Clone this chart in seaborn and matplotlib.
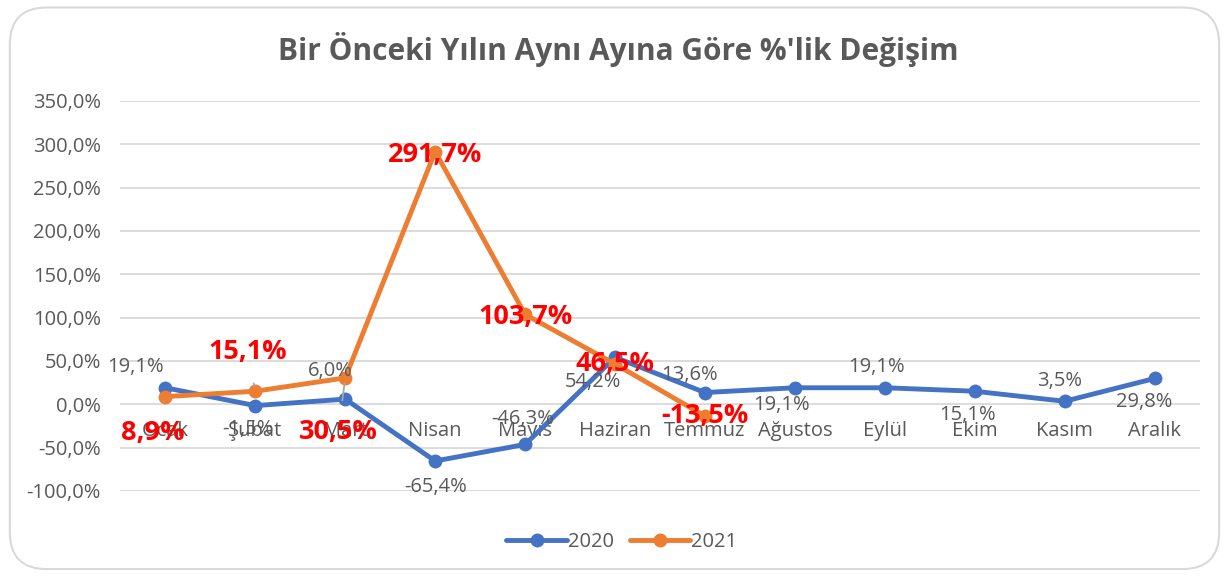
import pandas as pd
import matplotlib.pyplot as plt
import seaborn as sns
from matplotlib.patches import FancyBboxPatch

sns.set_theme(style="white")
plt.rcParams['font.family'] = ['Open Sans', 'DejaVu Sans']

# data
months = ['Ocak', 'Şubat', 'Mart', 'Nisan', 'Mayıs', 'Haziran', 'Temmuz',
          'Ağustos', 'Eylül', 'Ekim', 'Kasım', 'Aralık']
vals_2020 = [19.1, -1.5, 6.0, -65.4, -46.3, 54.2, 13.6, 19.1, 19.1, 15.1, 3.5, 29.8]
vals_2021 = [8.9, 15.1, 30.5, 291.7, 103.7, 46.5, -13.5]
y_ticks = [-100, -50, 0, 50, 100, 150, 200, 250, 300, 350]

# label offsets in pixels (dx, dy)
off_2020 = [(-30, 21), (-7, -23), (-15, 28), (0, -26), (-2, 25), (-22, -25),
            (-15, 18), (-13, -17), (-8, 21), (-7, -24), (-5, 20), (-10, -24)]
off_2021 = [(-13, -36), (-8, 39), (-7, -54), (0, -3), (0, -3), (0, 0), (0, 0)]
leader_2021 = [True, True, True, False, False, False, False]

df = pd.concat([
    pd.DataFrame({'ay': months, 'deger': vals_2020, 'yil': '2020'}),
    pd.DataFrame({'ay': months[:len(vals_2021)], 'deger': vals_2021, 'yil': '2021'}),
])
df['x'] = df['ay'].map({m: i for i, m in enumerate(months)})

gray = '#595959'
colors = {'2020': '#4472C4', '2021': '#ED7D31'}

fig = plt.figure(figsize=(12.29, 5.76), dpi=100)
ax = fig.add_axes([0.098, 0.1476, 0.878, 0.6771])

border = FancyBboxPatch((0.008, 0.012), 0.984, 0.975, boxstyle="round,pad=0,rounding_size=0.03",
                        transform=fig.transFigure, facecolor='white', edgecolor='#D9D9D9',
                        linewidth=1.5, zorder=-10, mutation_aspect=1229 / 576)
fig.patches.append(border)

sns.lineplot(data=df, x='x', y='deger', hue='yil', palette=colors, marker='o',
             markersize=10, markeredgewidth=0, linewidth=3.5, sort=False, ax=ax)

ax.set_xlim(-0.5, 11.5)
ax.set_ylim(-100, 350)
ax.spines['bottom'].set_position(('data', 0))
for s in ax.spines.values():
    s.set_visible(False)
ax.set_yticks(y_ticks)
ax.set_yticklabels([f'{v:.1f}%'.replace('.', ',') for v in y_ticks])
ax.set_xticks(range(len(months)))
ax.set_xticklabels(months)
ax.tick_params(axis='x', length=0, pad=12, labelsize=14.5, labelcolor=gray)
ax.tick_params(axis='y', length=0, pad=14, labelsize=14.5, labelcolor=gray)
ax.grid(axis='y', color='#D9D9D9', linewidth=1.3)
ax.set_axisbelow(True)
ax.set_xlabel('')
ax.set_ylabel('')

# data labels 2020
for i, (v, o) in enumerate(zip(vals_2020, off_2020)):
    ax.annotate(f'{v:.1f}%'.replace('.', ','), xy=(i, v), xytext=o, textcoords='offset pixels',
                ha='center', va='center', fontsize=14.5, color=gray, zorder=5)

# data labels 2021
for i, (v, o, lead) in enumerate(zip(vals_2021, off_2021, leader_2021)):
    arrow = dict(arrowstyle='-', color='#A6A6A6', lw=1.3, shrinkA=11, shrinkB=4) if lead else None
    ax.annotate(f'{v:.1f}%'.replace('.', ','), xy=(i, v), xytext=o, textcoords='offset pixels',
                ha='center', va='center', fontsize=19.5, fontweight='bold', color='#FF0000',
                arrowprops=arrow, zorder=6)

handles, labels = ax.get_legend_handles_labels()
ax.get_legend().remove()
fig.legend(handles, labels, loc='center', bbox_to_anchor=(0.506, 0.059), ncol=2, frameon=False,
           fontsize=14.5, labelcolor=gray, handlelength=3.0, columnspacing=0.8, handletextpad=0.05)

fig.suptitle("Bir Önceki Yılın Aynı Ayına Göre %'lik Değişim", x=0.503, y=0.945,
             fontsize=21.5, fontweight='bold', color=gray)

plt.savefig('out.png', dpi=100)
